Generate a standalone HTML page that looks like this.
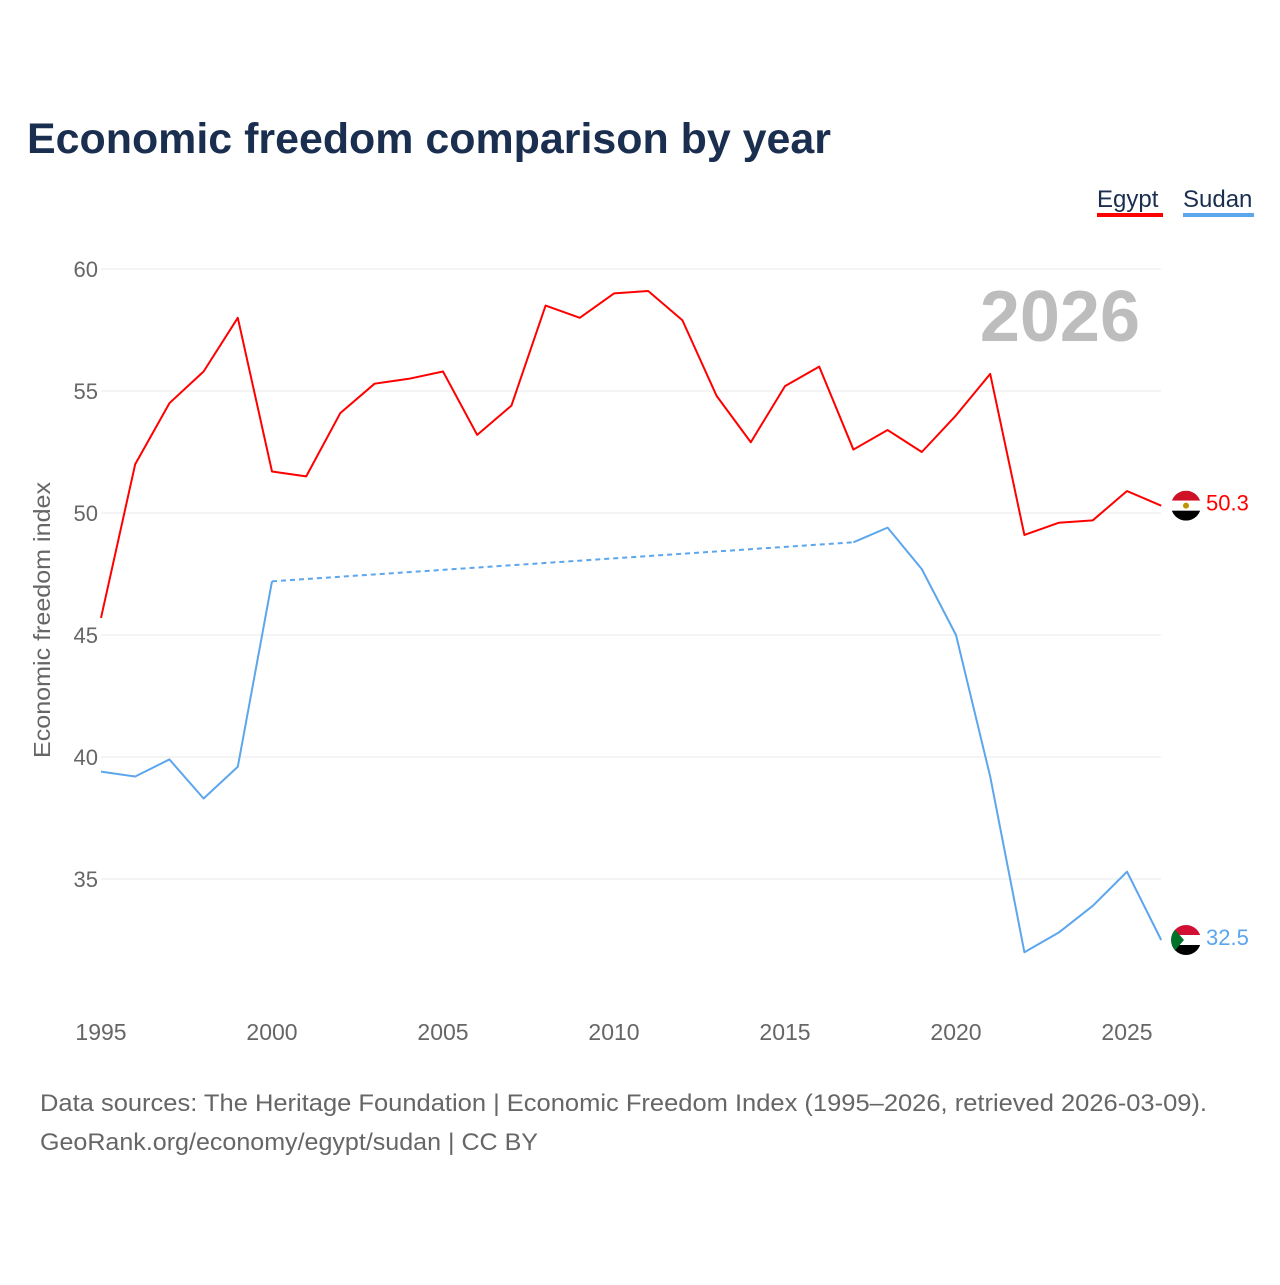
<!DOCTYPE html>
<html><head><meta charset="utf-8">
<style>
body{margin:0;background:#fff;font-family:"Liberation Sans",sans-serif;}
#wrap{position:relative;width:1280px;height:1280px;}
</style></head>
<body>
<div id="wrap">
<svg id="chart" width="1280" height="1280" xmlns="http://www.w3.org/2000/svg">
<text x="27" y="153" font-size="43" font-weight="bold" fill="#1a2e4f" textLength="804" lengthAdjust="spacingAndGlyphs">Economic freedom comparison by year</text>
<g>
<text x="1097" y="207" font-size="24" fill="#1a2e4f">Egypt</text>
<rect x="1097" y="213" width="66" height="4" fill="#ff0000"/>
</g>
<g>
<text x="1183" y="207" font-size="24" fill="#1a2e4f">Sudan</text>
<rect x="1183" y="213" width="71" height="4" fill="#5ba6ec"/>
</g>
<text x="1140" y="341" font-size="72" font-weight="bold" fill="#bdbdbd" text-anchor="end">2026</text>
<text transform="translate(50,620) rotate(-90)" font-size="23" fill="#666" text-anchor="middle" textLength="276" lengthAdjust="spacingAndGlyphs">Economic freedom index</text>
<g id="grid"></g><g id="xt"></g><g id="series"></g>
<text x="40" y="1111" font-size="24" fill="#666" textLength="1167" lengthAdjust="spacingAndGlyphs">Data sources: The Heritage Foundation | Economic Freedom Index (1995–2026, retrieved 2026-03-09).</text>
<text x="40" y="1150" font-size="24" fill="#666" textLength="498" lengthAdjust="spacingAndGlyphs">GeoRank.org/economy/egypt/sudan | CC BY</text>
</svg>
</div>
<script>
const years=[1995,1996,1997,1998,1999,2000,2001,2002,2003,2004,2005,2006,2007,2008,2009,2010,2011,2012,2013,2014,2015,2016,2017,2018,2019,2020,2021,2022,2023,2024,2025,2026];
const egypt=[45.7,52.0,54.5,55.8,58.0,51.7,51.5,54.1,55.3,55.5,55.8,53.2,54.4,58.5,58.0,59.0,59.1,57.9,54.8,52.9,55.2,56.0,52.6,53.4,52.5,54.0,55.7,49.1,49.6,49.7,50.9,50.3];
const sudan=[39.4,39.2,39.9,38.3,39.6,47.2,null,null,null,null,null,null,null,null,null,null,null,null,null,null,null,null,48.8,49.4,47.7,45.0,39.2,32.0,32.8,33.9,35.3,32.5];
const yTicks=[35,40,45,50,55,60];
const xTicks=[1995,2000,2005,2010,2015,2020,2025];
const NS="http://www.w3.org/2000/svg";
const X=y=>101+(y-1995)*34.2;
const Y=v=>269+(60-v)*24.4;
function mk(t,a,p){const e=document.createElementNS(NS,t);for(const k in a)e.setAttribute(k,a[k]);p.appendChild(e);return e;}
const grid=document.getElementById('grid');
yTicks.forEach(v=>{
 const l=mk('line',{x1:101,x2:1161,y1:Y(v),y2:Y(v),stroke:'#e8e8e8','stroke-width':1},grid);
 
 
 const t=mk('text',{x:98,y:Y(v)+8,'font-size':22,fill:'#666','text-anchor':'end'},grid);t.textContent=v;
 
 
});
const xt=document.getElementById('xt');
xTicks.forEach(v=>{
 const t=mk('text',{x:X(v),y:1040,'font-size':23,fill:'#666','text-anchor':'middle'},xt);t.textContent=v;
 
 
});
const S=document.getElementById('series');
function draw(vals,color,name){
 let seg=[],prev=null,segs=[],dash=[];
 vals.forEach((v,i)=>{
  if(v==null)return;
  if(prev!=null && prev!==i-1){segs.push(seg);seg=[];dash.push([prev,i]);}
  seg.push([X(years[i]),Y(v)]);prev=i;
 });
 segs.push(seg);
 segs.forEach((s,k)=>{
  const p=mk('polyline',{points:s.map(q=>q.join(',')).join(' '),fill:'none',stroke:color,'stroke-width':2,'stroke-linejoin':'round'},S);
  
  
 });
 dash.forEach(([a,b])=>{
  const d=mk('line',{x1:X(years[a]),y1:Y(vals[a]),x2:X(years[b]),y2:Y(vals[b]),stroke:color,'stroke-width':2,'stroke-dasharray':'5,4'},S);
  
  
 });
 const last=vals[vals.length-1];
 const cy=Y(last);
 const lab=mk('text',{x:1206,y:cy+5,'font-size':22,fill:color},S);lab.textContent=last.toFixed(1);
 
 
}
draw(egypt,'#ff0000','egypt');
draw(sudan,'#5ba6ec','sudan');
function flag(v,top,mid,bot,tri,name){
 const g=mk('g',{},S);
 
 
 const cx=1186,cy=Y(v),r=15;
 const id='c'+name;
 const cp=mk('clipPath',{id:id},g);mk('circle',{cx:cx,cy:cy,r:r},cp);
 const gg=mk('g',{'clip-path':'url(#'+id+')'},g);
 mk('rect',{x:cx-r,y:cy-r,width:2*r,height:10,fill:top},gg);
 mk('rect',{x:cx-r,y:cy-r+10,width:2*r,height:10,fill:mid},gg);
 mk('rect',{x:cx-r,y:cy-r+20,width:2*r,height:10,fill:bot},gg);
 if(tri)mk('polygon',{points:`${cx-r},${cy-r} ${cx-2},${cy} ${cx-r},${cy+r}`,fill:tri},gg);
 else mk('circle',{cx:cx,cy:cy,r:3,fill:'#c09300'},gg);
}
flag(egypt[egypt.length-1],'#ce1126','#fff','#000',null,'egypt');
flag(sudan[sudan.length-1],'#d21034','#fff','#000','#007229','sudan');
</script>
</body></html>
